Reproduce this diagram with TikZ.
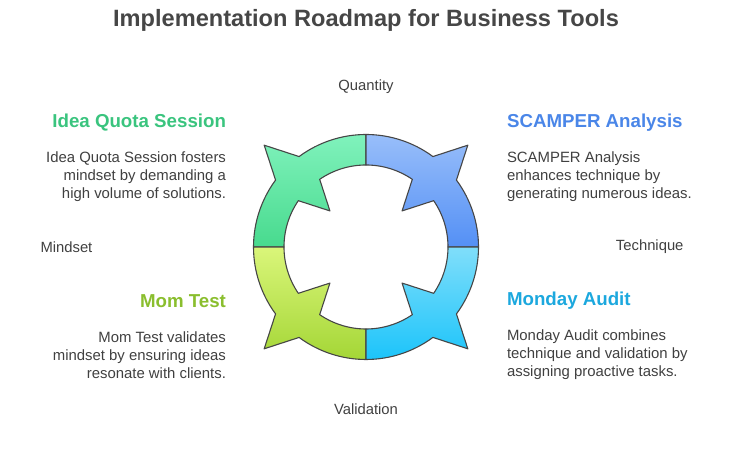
\documentclass[tikz,border=0pt]{standalone}
\usepackage{fontspec}
\setmainfont{Liberation Sans}

\definecolor{ringline}{RGB}{70,70,70}
\definecolor{titlegray}{RGB}{70,70,70}
\definecolor{bodygray}{RGB}{64,64,64}
\definecolor{ideagreen}{RGB}{58,196,126}
\definecolor{scamperblue}{RGB}{74,134,232}
\definecolor{momlime}{RGB}{138,190,46}
\definecolor{mondaycyan}{RGB}{28,168,222}
\definecolor{greenup}{RGB}{128,242,188}
\definecolor{greenlow}{RGB}{72,218,142}
\definecolor{blueup}{RGB}{152,190,250}
\definecolor{bluelow}{RGB}{84,144,245}
\definecolor{cyanup}{RGB}{128,222,250}
\definecolor{cyanlow}{RGB}{28,196,250}
\definecolor{limeup}{RGB}{218,246,122}
\definecolor{limelow}{RGB}{164,214,54}

\tikzset{
  heading/.style={font=\bfseries\fontsize{18.7}{21}\selectfont},
  bodytext/.style={font=\fontsize{14.9}{18}\selectfont,text=bodygray},
  axislabel/.style={font=\fontsize{14.8}{17}\selectfont,text=bodygray}
}

\begin{document}
\begin{tikzpicture}[x=1pt,y=1pt,line cap=round,line join=round]
  \useasboundingbox (0,0) rectangle (732,457);
  \coordinate (O) at (366,210);

  % ring quadrants with outward and inward spikes
  \foreach \a/\cu/\cl in {90/greenup/greenlow,0/blueup/bluelow,
                          180/limeup/limelow,270/cyanup/cyanlow}{
    \shade[top color=\cu,bottom color=\cl,draw=ringline,line width=1.1pt]
      ([shift={(\a:112.5)}]O)
      arc[start angle=\a,end angle=\a+36.5,radius=112.5]
      -- ([shift={(\a+45:144)}]O) -- ([shift={(\a+53.5:112.5)}]O)
      arc[start angle=\a+53.5,end angle=\a+90,radius=112.5]
      -- ([shift={(\a+90:82)}]O)
      arc[start angle=\a+90,end angle=\a+55.6,radius=82]
      -- ([shift={(\a+45:51)}]O) -- ([shift={(\a+34.4:82)}]O)
      arc[start angle=\a+34.4,end angle=\a,radius=82] -- cycle;
  }

  \node[font=\bfseries\fontsize{23.6}{26}\selectfont,text=titlegray] (title)
    at (366,437) {Implementation Roadmap for Business Tools};

  \node[axislabel] (quantity) at (366,370) {Quantity};
  \node[axislabel] (validation) at (366,48) {Validation};
  \node[axislabel,anchor=west] (mindset) at (37,210) {Mindset};
  \node[axislabel,anchor=east] (technique) at (687,210) {Technique};

  \node[heading,text=ideagreen,anchor=east] (ideahead) at (229.5,334)
    {Idea Quota Session};
  \node[bodytext,anchor=east,align=right] (ideabody) at (229.5,280)
    {Idea Quota Session fosters\\mindset by demanding a\\high volume of solutions.};

  \node[heading,text=scamperblue,anchor=west] (scamperhead) at (503.5,334)
    {SCAMPER Analysis};
  \node[bodytext,anchor=west,align=left] (scamperbody) at (503.5,280)
    {SCAMPER Analysis\\enhances technique by\\generating numerous ideas.};

  \node[heading,text=momlime,anchor=east] (momhead) at (229.5,156)
    {Mom Test};
  \node[bodytext,anchor=east,align=right] (mombody) at (229.5,102)
    {Mom Test validates\\mindset by ensuring ideas\\resonate with clients.};

  \node[heading,text=mondaycyan,anchor=west] (mondayhead) at (503.5,156)
    {Monday Audit};
  \node[bodytext,anchor=west,align=left] (mondaybody) at (503.5,102)
    {Monday Audit combines\\technique and validation by\\assigning proactive tasks.};
\end{tikzpicture}
\end{document}
